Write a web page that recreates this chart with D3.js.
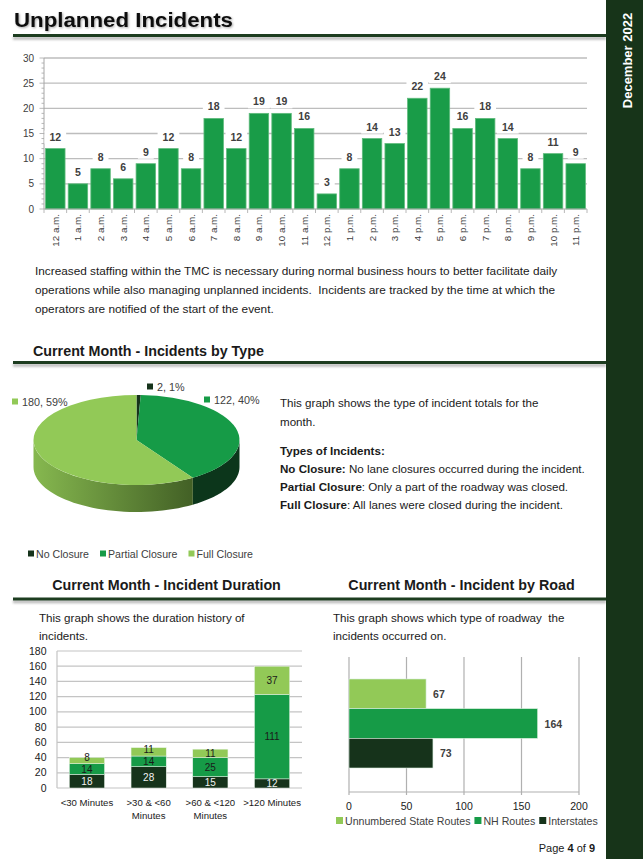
<!DOCTYPE html>
<html><head><meta charset="utf-8">
<script src="https://cdn.jsdelivr.net/npm/d3@7"></script>
<style>
html,body{margin:0;padding:0;background:#fff;}
svg{display:block;}
text{font-family:"Liberation Sans",Arial,sans-serif;}
</style></head><body><svg id="c" width="643" height="859"></svg>
<script>
// ---------- DATA ----------
const hours = ["12 a.m.","1 a.m.","2 a.m.","3 a.m.","4 a.m.","5 a.m.","6 a.m.","7 a.m.","8 a.m.","9 a.m.","10 a.m.","11 a.m.",
  "12 p.m.","1 p.m.","2 p.m.","3 p.m.","4 p.m.","5 p.m.","6 p.m.","7 p.m.","8 p.m.","9 p.m.","10 p.m.","11 p.m."];
const hourlyIncidents = [12,5,8,6,9,12,8,18,12,19,19,16,3,8,14,13,22,24,16,18,14,8,11,9];
const hourlyTicks = [0,5,10,15,20,25,30];

const incidentTypes = ["No Closure","Partial Closure","Full Closure"];
const incidentTypeCounts = [2,122,180];
const incidentTypePct = ["1%","40%","59%"];

const durationCategories = [["<30 Minutes"],[">30 & <60","Minutes"],[">60 & <120","Minutes"],[">120 Minutes"]];
const durationInterstates = [18,28,15,12];
const durationNHRoutes = [14,14,25,111];
const durationUnnumbered = [8,11,11,37];
const durationTicks = [0,20,40,60,80,100,120,140,160,180];

const roadTypes = ["Unnumbered State Routes","NH Routes","Interstates"];
const roadTotals = [67,164,73];
const roadTicks = [0,50,100,150,200];

// ---------- STYLE ----------
const C_DARK = "#16331b", C_MID = "#169b47", C_LIGHT = "#92c957";
const C_SIDEBAR = "#173419", C_RULE = "#1d3d20";
const TXT = "#1a1a1a", AX = "#404040";
const BODY = 11.6, HEAD = 14.3;

const svg = d3.select("#c");
const defs = svg.append("defs");
const blur = defs.append("filter").attr("id","blur").attr("x","-5%").attr("y","-100%").attr("width","110%").attr("height","300%");
blur.append("feGaussianBlur").attr("stdDeviation",1.1);
const tshadow = defs.append("filter").attr("id","tsh").attr("x","-5%").attr("y","-20%").attr("width","110%").attr("height","140%");
tshadow.append("feDropShadow").attr("dx",1).attr("dy",1).attr("stdDeviation",0.8).attr("flood-color","#000").attr("flood-opacity",0.35);

function rule(x1,x2,y){
  svg.append("rect").attr("class","rule-sh").attr("x",x1).attr("y",y+1.2).attr("width",x2-x1).attr("height",3).attr("fill","#666").attr("opacity",0.45).attr("filter","url(#blur)");
  svg.append("rect").attr("class","rule").attr("x",x1).attr("y",y-1.5).attr("width",x2-x1).attr("height",3).attr("fill",C_RULE);
}

// title
svg.append("text").attr("x",14).attr("y",27).attr("font-family","DejaVu Sans").attr("font-weight","bold")
  .attr("font-size",20).attr("textLength",219).attr("lengthAdjust","spacingAndGlyphs")
  .attr("fill","#111").attr("filter","url(#tsh)").text("Unplanned Incidents");
rule(13,606,35.5);

// ---------- HOURLY BAR CHART ----------
const hx = d3.scaleBand().domain(hours).range([44,587]).paddingInner(0.14).paddingOuter(0.07);
const hy = d3.scaleLinear().domain([0,30]).range([209,58]);
const g1 = svg.append("g");
g1.selectAll("line.grid").data(hourlyTicks.filter(d=>d>0)).join("line").attr("class","grid")
  .attr("x1",44).attr("x2",587).attr("y1",d=>hy(d)).attr("y2",d=>hy(d))
  .attr("stroke","#bdbdbd").attr("stroke-width",1.3);
g1.selectAll("line.minor").data(d3.range(0,31)).join("line").attr("class","minor")
  .attr("x1",d=>d%5===0?39.5:41.5).attr("x2",44).attr("y1",d=>hy(d)).attr("y2",d=>hy(d))
  .attr("stroke","#a6a6a6").attr("stroke-width",0.8);
g1.append("line").attr("x1",44).attr("x2",44).attr("y1",hy(30)).attr("y2",hy(0)).attr("stroke","#a6a6a6").attr("stroke-width",1);
g1.selectAll("text.yt").data(hourlyTicks).join("text").attr("class","yt")
  .attr("x",34).attr("y",d=>hy(d)+3.5).attr("text-anchor","end").attr("font-size",10).attr("fill",AX).text(d=>d);
g1.selectAll("rect.bar").data(hourlyIncidents).join("rect").attr("class","bar")
  .attr("x",(d,i)=>hx(hours[i])).attr("width",hx.bandwidth())
  .attr("y",d=>hy(d)).attr("height",d=>hy(0)-hy(d))
  .attr("fill","#199c48").attr("stroke","#5fbb7c").attr("stroke-width",0.8);
g1.append("line").attr("x1",44).attr("x2",587).attr("y1",hy(0)).attr("y2",hy(0)).attr("stroke","#a6a6a6").attr("stroke-width",1.2);
const tickXs = hours.map(h=>hx(h)-hx.step()*hx.paddingInner()/2).concat([587]);
g1.selectAll("line.xt").data(tickXs).join("line").attr("class","xt")
  .attr("x1",d=>d).attr("x2",d=>d)
  .attr("y1",hy(0)).attr("y2",hy(0)+4).attr("stroke","#a6a6a6").attr("stroke-width",0.8);
// labels with white backing
const lab = g1.selectAll("g.lab").data(hourlyIncidents).join("g").attr("class","lab")
  .attr("transform",(d,i)=>`translate(${hx(hours[i])+hx.bandwidth()/2},${hy(d)-8})`);
lab.append("rect").attr("fill","#fff");
lab.append("text").attr("text-anchor","middle").attr("font-size",10.5).attr("font-weight","bold").attr("fill",AX).text(d=>d);
lab.each(function(){
  const t = d3.select(this).select("text").node(); const w = t.getComputedTextLength();
  d3.select(this).select("rect").attr("x",-w/2-5).attr("y",-10).attr("width",w+10).attr("height",13);
});
g1.selectAll("text.xl").data(hours).join("text").attr("class","xl")
  .attr("transform",d=>`translate(${hx(d)+hx.bandwidth()/2+3.5},214) rotate(-90)`)
  .attr("text-anchor","end").attr("font-size",9.8).attr("fill",AX).text(d=>d);

// paragraph
const para = ["Increased staffing within the TMC is necessary during normal business hours to better facilitate daily",
  "operations while also managing unplanned incidents.  Incidents are tracked by the time at which the",
  "operators are notified of the start of the event."];
svg.selectAll("text.para").data(para).join("text").attr("class","para").attr("x",35).attr("y",(d,i)=>275+i*19)
  .attr("font-size",11.8).attr("fill",TXT).attr("xml:space","preserve").style("white-space","pre").text(d=>d);

// ---------- PIE ----------
svg.append("text").attr("x",33).attr("y",356).attr("font-size",HEAD).attr("font-weight","bold").attr("fill",TXT)
  .text("Current Month - Incidents by Type");
rule(13,606,362.5);

const pcx = 136.5, pcy = 440, prx = 103, pry = 45, pdepth = 27;
const pieColors = [C_DARK, C_MID, C_LIGHT];
const pie = d3.pie().sort(null).value(d=>d)(incidentTypeCounts);
const px = a => pcx + prx*Math.sin(a), py = a => pcy - pry*Math.cos(a);
const sideGrad = [
  ["sg0","#0d2a14","#0a2010"],
  ["sg1","#13522a","#0c361b"],
  ["sg2","#86b84f","#405d24"]
];
sideGrad.forEach(([id,a,b])=>{
  const lg = defs.append("linearGradient").attr("id",id).attr("gradientUnits","userSpaceOnUse")
    .attr("x1",pcx-prx).attr("x2",pcx+prx*0.6).attr("y1",0).attr("y2",0);
  lg.append("stop").attr("offset",0).attr("stop-color",a);
  lg.append("stop").attr("offset",1).attr("stop-color",b);
});
const gp = svg.append("g");
pie.forEach((s,i)=>{
  const a0 = Math.max(s.startAngle, Math.PI/2), a1 = Math.min(s.endAngle, Math.PI*1.5);
  if (a1 <= a0) return;
  const n = 40, pts = [];
  for (let k=0;k<=n;k++){ const a = a0+(a1-a0)*k/n; pts.push([px(a),py(a)]); }
  for (let k=n;k>=0;k--){ const a = a0+(a1-a0)*k/n; pts.push([px(a),py(a)+pdepth]); }
  gp.append("path").attr("d","M"+pts.map(p=>p.join(",")).join("L")+"Z").attr("fill",`url(#sg${i})`);
});
const arc = d3.arc().innerRadius(0).outerRadius(prx);
gp.append("g").attr("transform",`translate(${pcx},${pcy}) scale(1,${pry/prx})`)
  .selectAll("path").data(pie).join("path").attr("d",arc).attr("fill",(d,i)=>pieColors[i]);

// pie data labels
const pieLabelPos = [[147,391],[204,404],[12,406]];
incidentTypes.forEach((t,i)=>{
  const [lx,ly] = pieLabelPos[i];
  svg.append("rect").attr("x",lx).attr("y",ly-7.5).attr("width",6).attr("height",6).attr("fill",pieColors[i]);
  svg.append("text").attr("x",lx+10).attr("y",ly).attr("font-size",10.8).attr("fill",AX)
    .text(`${incidentTypeCounts[i]}, ${incidentTypePct[i]}`);
});
// pie legend
let lgx = 28;
incidentTypes.forEach((t,i)=>{
  svg.append("rect").attr("x",lgx).attr("y",550.5).attr("width",6).attr("height",6).attr("fill",pieColors[i]);
  const tt = svg.append("text").attr("x",lgx+8).attr("y",557.5).attr("font-size",10.6).attr("fill",AX).text(t);
  lgx += 8 + tt.node().getComputedTextLength() + 11;
});

// right text
const rt = svg.append("g").attr("font-size",BODY).attr("fill",TXT);
rt.append("text").attr("x",280).attr("y",407).text("This graph shows the type of incident totals for the");
rt.append("text").attr("x",280).attr("y",426).text("month.");
rt.append("text").attr("x",280).attr("y",455).attr("font-weight","bold").text("Types of Incidents:");
[["No Closure:"," No lane closures occurred during the incident."],
 ["Partial Closure",": Only a part of the roadway was closed."],
 ["Full Closure",": All lanes were closed during the incident."]].forEach(([b,r],i)=>{
  const t = rt.append("text").attr("x",280).attr("y",473+i*18).attr("xml:space","preserve").style("white-space","pre");
  t.append("tspan").attr("font-weight","bold").text(b);
  t.append("tspan").text(r);
});

// ---------- DURATION ----------
svg.append("text").attr("x",166.5).attr("y",590).attr("text-anchor","middle").attr("font-size",HEAD).attr("font-weight","bold").attr("fill",TXT)
  .text("Current Month - Incident Duration");
svg.append("text").attr("x",461.5).attr("y",590).attr("text-anchor","middle").attr("font-size",HEAD).attr("font-weight","bold").attr("fill",TXT)
  .text("Current Month - Incident by Road");
rule(13,606,599);

svg.append("text").attr("x",39).attr("y",622).attr("font-size",BODY).attr("fill",TXT).text("This graph shows the duration history of");
svg.append("text").attr("x",39).attr("y",640).attr("font-size",BODY).attr("fill",TXT).text("incidents.");

const dxs = d3.scaleBand().domain(d3.range(durationCategories.length)).range([57,302]).paddingInner(0.43).paddingOuter(0.2);
const dys = d3.scaleLinear().domain([0,180]).range([788,651]);
const g2 = svg.append("g");
g2.selectAll("line.g").data(durationTicks).join("line").attr("class","g")
  .attr("x1",57).attr("x2",302).attr("y1",d=>dys(d)).attr("y2",d=>dys(d)).attr("stroke","#c4c4c4").attr("stroke-width",1.2);
g2.append("line").attr("x1",57).attr("x2",57).attr("y1",651).attr("y2",788).attr("stroke","#c4c4c4").attr("stroke-width",1.2);
g2.selectAll("text.yt").data(durationTicks).join("text").attr("class","yt").attr("x",46.5).attr("y",d=>dys(d)+3.5)
  .attr("text-anchor","end").attr("font-size",10.5).attr("fill",TXT).text(d=>d);
const stackKeys = ["Interstates","NH","Unnumbered"];
const stackRows = durationCategories.map((c,i)=>({i, Interstates:durationInterstates[i], NH:durationNHRoutes[i], Unnumbered:durationUnnumbered[i]}));
const stacked = d3.stack().keys(stackKeys)(stackRows);
const stackColors = [C_DARK, C_MID, C_LIGHT];
const stackText = ["#f2f2f2", TXT, TXT];
stacked.forEach((layer,li)=>{
  g2.selectAll(null).data(layer).join("rect")
    .attr("x",d=>dxs(d.data.i)).attr("width",dxs.bandwidth())
    .attr("y",d=>dys(d[1])).attr("height",d=>dys(d[0])-dys(d[1]))
    .attr("fill",stackColors[li]).attr("stroke","#e8f3e8").attr("stroke-width",0.5);
});
// label centres, nudged upward where segments are too thin to separate them
const MIN_GAP = 11.6;
const labCentres = durationCategories.map((c,i)=>{
  let prev = Infinity;
  return stacked.map(layer=>{
    const d = layer[i];
    let cy = (dys(d[0])+dys(d[1]))/2;
    if (prev - cy < MIN_GAP) cy = prev - MIN_GAP;
    prev = cy;
    return cy;
  });
});
stacked.forEach((layer,li)=>{
  g2.selectAll(null).data(layer).join("text")
    .attr("x",d=>dxs(d.data.i)+dxs.bandwidth()/2).attr("y",d=>labCentres[d.data.i][li]+3.6)
    .attr("text-anchor","middle").attr("font-size",10).attr("fill",stackText[li]).text(d=>d[1]-d[0]);
});
durationCategories.forEach((lines,i)=>{
  lines.forEach((l,k)=>{
    g2.append("text").attr("x",dxs(i)+dxs.bandwidth()/2).attr("y",806+k*13).attr("text-anchor","middle")
      .attr("font-size",9.6).attr("fill",TXT).text(l);
  });
});

// ---------- ROAD ----------
svg.append("text").attr("x",333).attr("y",622).attr("font-size",BODY).attr("fill",TXT).attr("xml:space","preserve").style("white-space","pre")
  .text("This graph shows which type of roadway  the");
svg.append("text").attr("x",333).attr("y",640).attr("font-size",BODY).attr("fill",TXT).text("incidents occurred on.");
const rx = d3.scaleLinear().domain([0,200]).range([349,579]);
const ry = d3.scaleBand().domain(roadTypes).range([679,768]);
const g3 = svg.append("g");
g3.selectAll("line.g").data(roadTicks).join("line").attr("class","g").attr("x1",d=>rx(d)).attr("x2",d=>rx(d))
  .attr("y1",657).attr("y2",795).attr("stroke","#b0b0b0").attr("stroke-width",1.2);
g3.append("line").attr("x1",349).attr("x2",579).attr("y1",792).attr("y2",792).attr("stroke","#b0b0b0").attr("stroke-width",1.2);
const roadColors = [C_LIGHT, C_MID, C_DARK];
g3.selectAll("rect.b").data(roadTotals).join("rect").attr("class","b")
  .attr("x",rx(0)).attr("y",(d,i)=>ry(roadTypes[i])).attr("height",ry.bandwidth())
  .attr("width",d=>rx(d)-rx(0)).attr("fill",(d,i)=>roadColors[i]).attr("stroke","#d8eedd").attr("stroke-width",0.6);
g3.selectAll("text.v").data(roadTotals).join("text").attr("class","v")
  .attr("x",d=>rx(d)+7).attr("y",(d,i)=>ry(roadTypes[i])+ry.bandwidth()/2+4)
  .attr("font-size",10.5).attr("font-weight","bold").attr("fill",AX).text(d=>d);
g3.selectAll("text.t").data(roadTicks).join("text").attr("class","t").attr("x",d=>rx(d)).attr("y",810).attr("text-anchor","middle")
  .attr("font-size",10.5).attr("fill",TXT).text(d=>d);
let rlx = 336;
roadTypes.forEach((t,i)=>{
  svg.append("rect").attr("x",rlx).attr("y",817).attr("width",7).attr("height",7).attr("fill",roadColors[i]);
  const tt = svg.append("text").attr("x",rlx+9).attr("y",824.5).attr("font-size",10.6).attr("fill",AX).text(t);
  rlx += 9 + tt.node().getComputedTextLength() + 4;
});

// page number
const pg = svg.append("text").attr("x",595).attr("y",852).attr("text-anchor","end").attr("font-size",11).attr("fill",TXT);
pg.append("tspan").text("Page ");
pg.append("tspan").attr("font-weight","bold").text("4");
pg.append("tspan").text(" of ");
pg.append("tspan").attr("font-weight","bold").text("9");

// sidebar (drawn last, on top)
svg.append("rect").attr("x",606).attr("y",0).attr("width",37).attr("height",859).attr("fill",C_SIDEBAR);
svg.append("text").attr("transform","translate(632,60.5) rotate(-90)").attr("text-anchor","middle")
  .attr("font-size",13).attr("font-weight","bold").attr("fill","#fff").text("December 2022");
</script></body></html>
